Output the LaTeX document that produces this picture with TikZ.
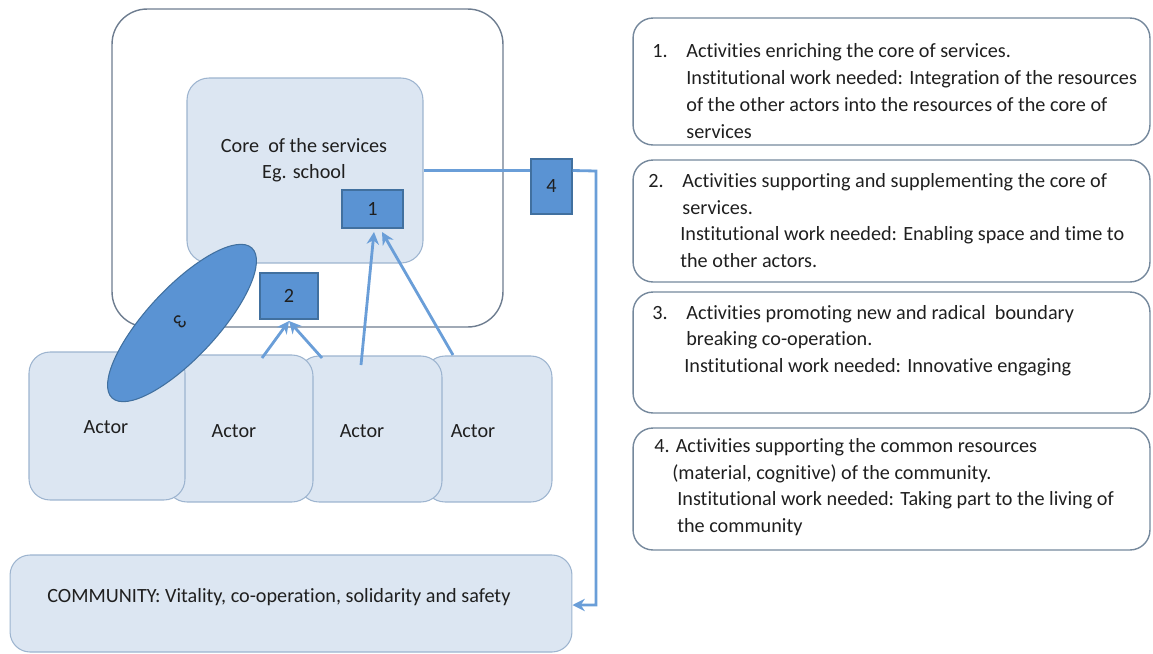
\documentclass[tikz,border=0pt]{standalone}
\usepackage{fontspec}
\setmainfont{Carlito}[Ligatures=NoCommon]
\usetikzlibrary{shapes.geometric,arrows.meta}
\definecolor{lightfill}{HTML}{DCE6F2}
\definecolor{lightline}{HTML}{9DB4CF}
\definecolor{outerline}{HTML}{6E7D90}
\definecolor{midblue}{HTML}{5A93D3}
\definecolor{numline}{HTML}{41709F}
\definecolor{arrowblue}{HTML}{6A9ED8}
\definecolor{rline}{HTML}{75889C}
\definecolor{textdark}{HTML}{1F1F1F}
\begin{document}
\begin{tikzpicture}[x=0.02cm,y=-0.02cm,
  font=\fontsize{11.5}{15.4}\selectfont,
  outerbox/.style={draw=outerline, line width=0.8pt, fill=white, rounded corners=0.7cm, inner sep=0},
  lbox/.style={draw=lightline, fill=lightfill, line width=0.6pt, rounded corners=0.42cm, inner sep=0},
  numbox/.style={draw=numline, fill=midblue, line width=0.6pt, text=textdark, inner sep=0},
  rbox/.style={draw=rline, line width=0.8pt, rounded corners=0.4cm, inner sep=0, minimum width=10.34cm},
  arr/.style={draw=arrowblue, line width=1.6pt, -{Stealth[length=7pt,width=7pt]}},
  rt/.style={anchor=base west, inner sep=0, text=textdark},
  lbl/.style={anchor=base, inner sep=0, text=textdark}]
\useasboundingbox (0,0) rectangle (1153,653);
% outer frame and core
\node[outerbox, minimum width=7.82cm, minimum height=6.36cm] (outer) at (307.5,168) {};
\node[lbox, minimum width=4.72cm, minimum height=3.7cm, rounded corners=0.44cm] (core) at (305,170.5) {};
\node[lbl] (coret1) at (304,152) {Core\ \ of the services};
\node[lbl] (coret2) at (304,178) {Eg. school};
% numbered boxes
\node[numbox, minimum width=1.22cm, minimum height=0.76cm] (b1) at (372.5,209) {1};
\node[numbox, minimum width=1.16cm, minimum height=0.92cm] (b2) at (289,296) {2};
\node[numbox, minimum width=0.82cm, minimum height=1.1cm] (b4) at (551.5,186.5) {4};
% actors (back to front)
\node[lbox, minimum width=2.56cm, minimum height=2.92cm] (a4) at (488,429) {};
\node[lbox, minimum width=2.88cm, minimum height=2.92cm] (a3) at (370,429) {};
\node[lbox, minimum width=2.94cm, minimum height=2.94cm] (a2) at (239.5,428.5) {};
\node[lbox, minimum width=3.12cm, minimum height=2.96cm] (a1) at (107,426) {};
\node[lbl] (a1t) at (106,433) {Actor};
\node[lbl] (a2t) at (234,437) {Actor};
\node[lbl] (a3t) at (362,437) {Actor};
\node[lbl] (a4t) at (473,437) {Actor};
% ellipse 3
\node[ellipse, draw=numline, fill=midblue, line width=0.6pt, inner sep=0, minimum width=4.1cm, minimum height=1.4cm, rotate=47] (e3) at (182,323) {};
\node[inner sep=0, text=textdark, rotate=-135] (e3t) at (180,322) {3};
% community
\node[lbox, minimum width=11.24cm, minimum height=1.94cm, rounded corners=0.4cm] (comm) at (291,603.5) {};
\node[rt] (commt) at (47,602) {COMMUNITY: Vitality, co-operation, solidarity and safety};
% connectors
\coordinate (s2a) at (262,358);
\coordinate (s2b) at (322,358);
\coordinate (e2) at (289,321);
\coordinate (s1a) at (361,365);
\coordinate (s1b) at (453,355);
\coordinate (e1a) at (374,232);
\coordinate (e1b) at (382,232);
\draw[arr] (s2a) -- (e2);
\draw[arr] (s2b) -- (e2);
\draw[arr] (s1a) -- (e1a);
\draw[arr] (s1b) -- (e1b);
\coordinate (c4a) at (596,171);
\coordinate (c4b) at (596,605);
\draw[draw=arrowblue, line width=1.6pt] (core.east) -- (core.east -| b4.west);
\draw[arr] (core.east -| b4.east) -- (c4a) -- (c4b) -- (c4b -| comm.east);
% right-hand boxes
\node[rbox, minimum height=2.54cm] (r1) at (891.5,81.5) {};
\node[rbox, minimum height=2.44cm] (r2) at (891.5,221) {};
\node[rbox, minimum height=2.42cm] (r3) at (891.5,352.5) {};
\node[rbox, minimum height=2.44cm] (r4) at (891.5,489) {};
\node[rt] (r1a) at (652,57) {\makebox[0.68cm][l]{1.}Activities enriching the core of services.};
\node[rt] (r1b) at (686,84) {Institutional work needed: Integration of the resources};
\node[rt] (r1c) at (686,111) {of the other actors into the resources of the core of};
\node[rt] (r1d) at (686,138) {services};
\node[rt] (r2a) at (648,187) {\makebox[0.68cm][l]{2.}Activities supporting and supplementing the core of};
\node[rt] (r2b) at (682,214) {services.};
\node[rt] (r2c) at (680,240) {Institutional work needed: Enabling space and time to};
\node[rt] (r2d) at (680,267) {the other actors.};
\node[rt] (r3a) at (652,319) {\makebox[0.68cm][l]{3.}Activities promoting new and radical\ \ boundary};
\node[rt] (r3b) at (686,345) {breaking co-operation.};
\node[rt] (r3c) at (684,372) {Institutional work needed: Innovative engaging};
\node[rt] (r4a) at (654,452) {4. Activities supporting the common resources};
\node[rt] (r4b) at (672,479) {(material, cognitive) of the community.};
\node[rt] (r4c) at (677,505) {Institutional work needed: Taking part to the living of};
\node[rt] (r4d) at (677,532) {the community};
\end{tikzpicture}
\end{document}
